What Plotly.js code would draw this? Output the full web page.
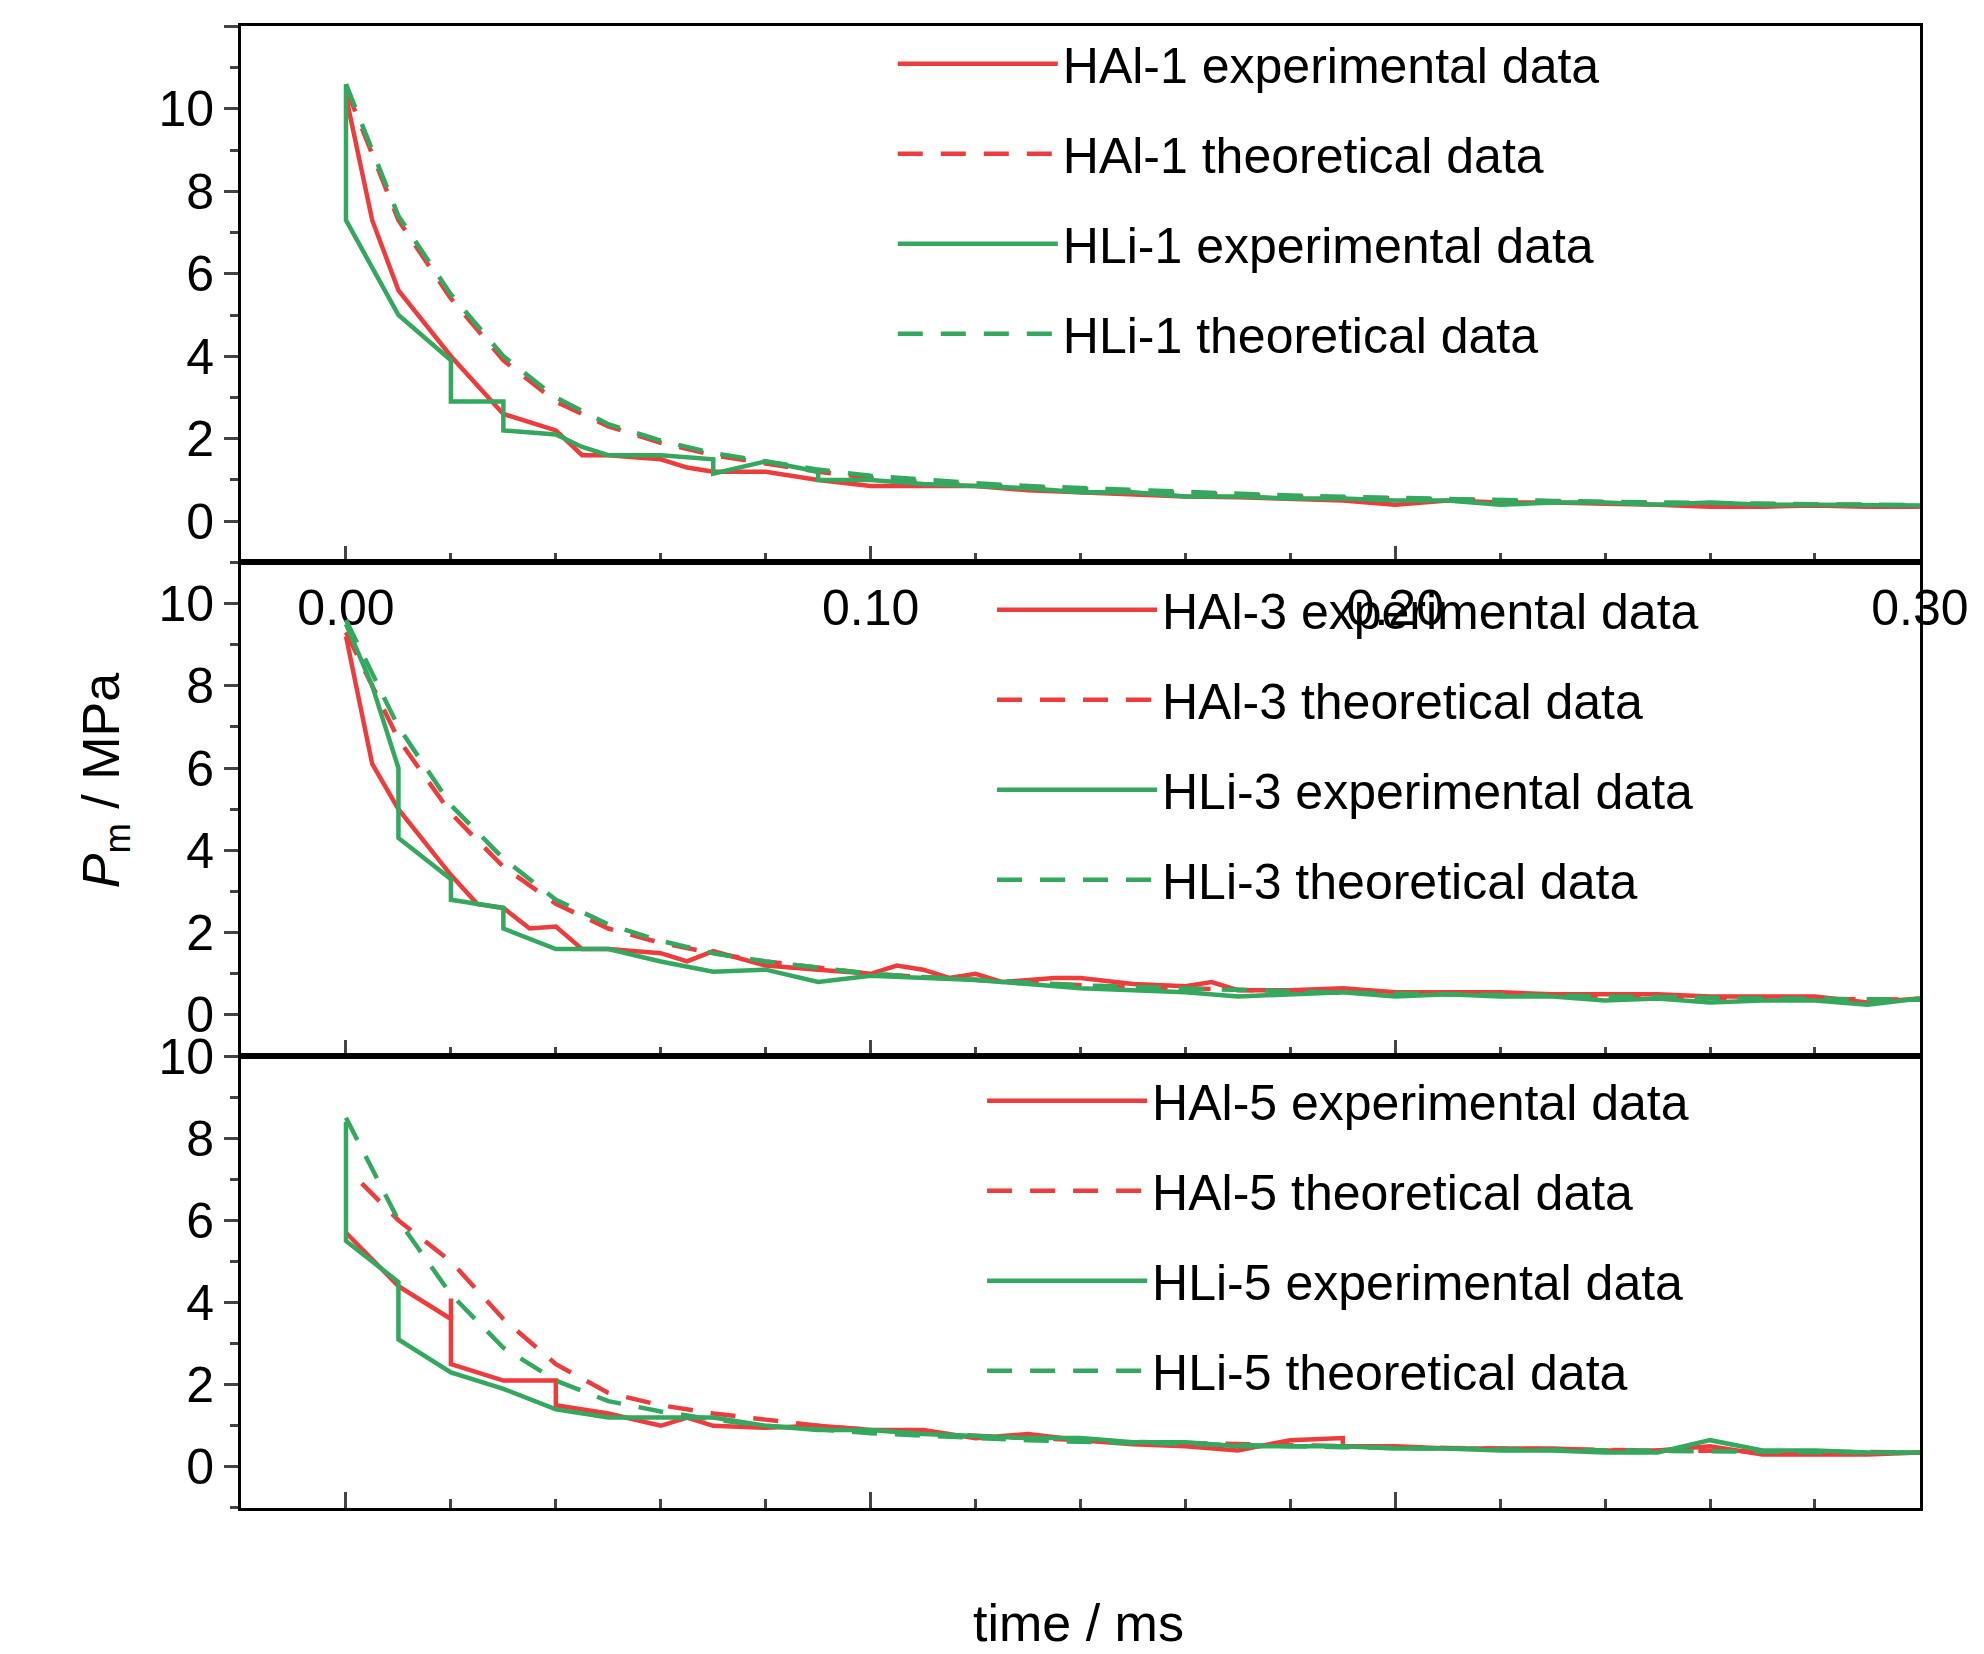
<!DOCTYPE html>
<html>
<head>
<meta charset="utf-8">
<script src="https://cdn.plot.ly/plotly-3.0.1.min.js"></script>
<style>body{margin:0;background:#fff}#chart{width:1984px;height:1654px}</style>
</head>
<body>
<div id="chart"></div>
<script>
const RED = '#ee3b3b';
const GREEN = '#33a85e';

// panel 1
const hal1ExpT = [0,0.005,0.01,0.02,0.03,0.04,0.045,0.05,0.06,0.065,0.07,0.08,0.09,0.1,0.11,0.12,0.13,0.14,0.15,0.16,0.17,0.18,0.19,0.2,0.21,0.22,0.23,0.24,0.25,0.26,0.27,0.28,0.29,0.3];
const hal1ExpP = [10.3,7.3,5.6,4.0,2.6,2.2,1.6,1.6,1.5,1.3,1.2,1.2,1.0,0.85,0.85,0.85,0.75,0.7,0.65,0.6,0.58,0.55,0.5,0.4,0.5,0.45,0.45,0.42,0.4,0.35,0.35,0.38,0.35,0.35];
const hli1ExpT = [0,0,0.01,0.02,0.02,0.03,0.03,0.04,0.045,0.05,0.06,0.07,0.07,0.08,0.09,0.09,0.1,0.11,0.12,0.13,0.14,0.15,0.16,0.17,0.18,0.19,0.2,0.21,0.22,0.23,0.24,0.25,0.26,0.27,0.28,0.29,0.3];
const hli1ExpP = [10.6,7.3,5.0,3.9,2.9,2.9,2.2,2.1,1.8,1.6,1.6,1.5,1.15,1.45,1.2,1.0,1.0,0.9,0.85,0.8,0.7,0.7,0.6,0.6,0.55,0.55,0.5,0.5,0.4,0.45,0.45,0.4,0.45,0.4,0.4,0.38,0.38];
const thT = [0,0.01,0.02,0.03,0.04,0.05,0.06,0.07,0.08,0.09,0.1,0.11,0.12,0.13,0.14,0.15,0.16,0.17,0.18,0.19,0.2,0.21,0.22,0.23,0.24,0.25,0.26,0.27,0.28,0.29,0.3];
const hal1ThP = [10.5,7.3,5.4,3.9,2.9,2.3,1.9,1.6,1.4,1.2,1.05,0.95,0.88,0.82,0.76,0.72,0.68,0.64,0.6,0.57,0.55,0.52,0.5,0.48,0.46,0.44,0.43,0.41,0.4,0.39,0.38];
const hli1ThP = [10.6,7.4,5.5,4.0,3.0,2.35,1.95,1.65,1.45,1.25,1.1,1.0,0.92,0.85,0.8,0.75,0.7,0.66,0.62,0.59,0.56,0.53,0.51,0.49,0.47,0.45,0.44,0.42,0.41,0.4,0.39];

// panel 2
const hal3ExpT = [0,0.005,0.01,0.02,0.025,0.03,0.035,0.04,0.045,0.05,0.06,0.065,0.07,0.08,0.09,0.1,0.105,0.11,0.115,0.12,0.125,0.13,0.135,0.14,0.15,0.16,0.165,0.17,0.18,0.19,0.2,0.21,0.22,0.23,0.24,0.25,0.26,0.27,0.28,0.29,0.3];
const hal3ExpP = [9.2,6.1,5.0,3.4,2.7,2.6,2.1,2.15,1.6,1.6,1.5,1.3,1.55,1.2,1.1,1.0,1.2,1.1,0.9,1.0,0.8,0.85,0.9,0.9,0.75,0.7,0.8,0.6,0.6,0.65,0.55,0.55,0.55,0.5,0.5,0.5,0.45,0.45,0.45,0.3,0.4];
const hli3ExpT = [0,0.005,0.01,0.01,0.02,0.02,0.03,0.03,0.04,0.05,0.06,0.07,0.08,0.09,0.1,0.11,0.12,0.13,0.14,0.15,0.16,0.17,0.18,0.19,0.2,0.21,0.22,0.23,0.24,0.25,0.26,0.27,0.28,0.29,0.3];
const hli3ExpP = [9.5,8.0,6.0,4.3,3.3,2.8,2.6,2.1,1.6,1.6,1.3,1.05,1.1,0.8,0.95,0.9,0.85,0.75,0.65,0.6,0.55,0.45,0.5,0.55,0.45,0.5,0.45,0.45,0.35,0.4,0.3,0.35,0.35,0.25,0.4];
const hal3ThP = [9.3,6.7,4.9,3.6,2.7,2.1,1.75,1.5,1.3,1.15,1.0,0.92,0.85,0.78,0.72,0.68,0.64,0.6,0.57,0.54,0.52,0.5,0.48,0.46,0.44,0.43,0.41,0.4,0.39,0.38,0.37];
const hli3ThP = [9.6,7.0,5.1,3.8,2.8,2.2,1.8,1.5,1.3,1.15,1.0,0.92,0.85,0.78,0.72,0.68,0.64,0.6,0.57,0.54,0.52,0.5,0.48,0.46,0.44,0.43,0.41,0.4,0.39,0.38,0.37];

// panel 3
const hal5ExpT = [0,0.01,0.02,0.02,0.02,0.03,0.04,0.04,0.05,0.06,0.065,0.07,0.08,0.09,0.1,0.11,0.12,0.13,0.14,0.15,0.16,0.17,0.18,0.19,0.19,0.2,0.21,0.22,0.23,0.24,0.25,0.26,0.27,0.28,0.29,0.3];
const hal5ExpP = [5.7,4.4,3.6,4.1,2.5,2.1,2.1,1.5,1.3,1.0,1.2,1.0,0.95,1.0,0.9,0.9,0.7,0.8,0.65,0.55,0.5,0.4,0.65,0.7,0.5,0.5,0.45,0.45,0.45,0.4,0.4,0.5,0.3,0.3,0.3,0.35];
const hli5ExpT = [0,0,0.01,0.01,0.02,0.03,0.04,0.05,0.06,0.07,0.08,0.09,0.1,0.11,0.12,0.13,0.14,0.15,0.16,0.17,0.18,0.19,0.2,0.21,0.22,0.23,0.24,0.25,0.26,0.27,0.28,0.29,0.3];
const hli5ExpP = [8.4,5.5,4.5,3.1,2.3,1.9,1.4,1.2,1.2,1.2,1.0,0.9,0.9,0.8,0.75,0.7,0.7,0.6,0.6,0.5,0.5,0.5,0.45,0.45,0.4,0.4,0.35,0.35,0.65,0.4,0.4,0.35,0.35];
const hal5ThT = [0.003,0.01,0.02,0.03,0.04,0.05,0.06,0.07,0.08,0.09,0.1,0.11,0.12,0.13,0.14,0.15,0.16,0.17,0.18,0.19,0.2,0.21,0.22,0.23,0.24,0.25,0.26,0.27,0.28,0.29,0.3];
const hal5ThP = [6.9,6.0,5.0,3.6,2.5,1.8,1.5,1.3,1.15,1.0,0.9,0.82,0.76,0.7,0.65,0.61,0.58,0.55,0.52,0.5,0.48,0.46,0.44,0.42,0.41,0.4,0.39,0.38,0.37,0.36,0.35];
const hli5ThP = [8.5,6.0,4.2,2.9,2.1,1.6,1.35,1.15,1.0,0.9,0.82,0.76,0.7,0.65,0.61,0.58,0.55,0.52,0.5,0.48,0.46,0.44,0.42,0.41,0.4,0.39,0.38,0.37,0.36,0.35,0.34];

function tr(x, y, name, color, dash, ax, leg, grp) {
  return {x: x, y: y, name: name, type: 'scatter', mode: 'lines',
    line: {color: color, width: 4.5, dash: dash},
    xaxis: ax[0], yaxis: ax[1], legend: leg, legendgroup: grp};
}

const a1 = ['x', 'y'], a2 = ['x2', 'y2'], a3 = ['x3', 'y3'];
const data = [
  tr(hal1ExpT, hal1ExpP, 'HAl-1 experimental data', RED, 'solid', a1, 'legend', 'a'),
  tr(thT, hal1ThP, 'HAl-1 theoretical data', RED, '25px,18px', a1, 'legend', 'b'),
  tr(hli1ExpT, hli1ExpP, 'HLi-1 experimental data', GREEN, 'solid', a1, 'legend', 'c'),
  tr(thT, hli1ThP, 'HLi-1 theoretical data', GREEN, '25px,18px', a1, 'legend', 'd'),
  tr(hal3ExpT, hal3ExpP, 'HAl-3 experimental data', RED, 'solid', a2, 'legend2', 'e'),
  tr(thT, hal3ThP, 'HAl-3 theoretical data', RED, '25px,18px', a2, 'legend2', 'f'),
  tr(hli3ExpT, hli3ExpP, 'HLi-3 experimental data', GREEN, 'solid', a2, 'legend2', 'g'),
  tr(thT, hli3ThP, 'HLi-3 theoretical data', GREEN, '25px,18px', a2, 'legend2', 'h'),
  tr(hal5ExpT, hal5ExpP, 'HAl-5 experimental data', RED, 'solid', a3, 'legend3', 'i'),
  tr(hal5ThT, hal5ThP, 'HAl-5 theoretical data', RED, '25px,18px', a3, 'legend3', 'j'),
  tr(hli5ExpT, hli5ExpP, 'HLi-5 experimental data', GREEN, 'solid', a3, 'legend3', 'k'),
  tr(thT, hli5ThP, 'HLi-5 theoretical data', GREEN, '25px,18px', a3, 'legend3', 'l')
];

const FONT = 'Liberation Sans Narrow, Liberation Sans, Arial, sans-serif';
const xDom = [0.1215, 0.9677];
function xax(labels, anchor) {
  return {domain: xDom, range: [-0.02, 0.30], anchor: anchor,
    tickvals: [0, 0.1, 0.2, 0.3], ticktext: ['0.00', '0.10', '0.20', '0.30'],
    showticklabels: labels, ticks: 'inside', ticklen: 16, tickwidth: 3,
    minor: {dtick: 0.02, tick0: 0, ticks: 'inside', ticklen: 9, tickwidth: 3},
    showline: true, linewidth: 3, linecolor: '#000', mirror: true,
    showgrid: false, zeroline: false, tickfont: {size: 50}};
}
function yax(dom, rng, anchor) {
  return {domain: dom, range: rng, anchor: anchor, dtick: 2, tick0: 0,
    ticks: 'outside', ticklen: 14, tickwidth: 3,
    minor: {dtick: 1, ticks: 'outside', ticklen: 8, tickwidth: 3},
    showline: true, linewidth: 3, linecolor: '#000', mirror: true,
    showgrid: false, zeroline: false, tickfont: {size: 50}};
}
function leg(x, y) {
  return {x: x, y: y, xanchor: 'left', yanchor: 'top', bgcolor: 'rgba(0,0,0,0)',
    font: {size: 50, family: FONT}, itemwidth: 160, tracegroupgap: 22};
}

const layout = {
  width: 1984, height: 1654, margin: {l: 0, r: 0, t: 0, b: 0},
  paper_bgcolor: '#fff', plot_bgcolor: '#fff', showlegend: true,
  font: {family: FONT, size: 50, color: '#000'},
  xaxis: xax(true, 'y3'), xaxis2: Object.assign(xax(false, 'y2'), {matches: 'x'}),
  xaxis3: Object.assign(xax(false, 'y'), {matches: 'x'}),
  yaxis3: yax([0.660, 0.984], [-1, 12], 'x3'),
  yaxis2: yax([0.3615, 0.660], [-1, 11], 'x2'),
  yaxis: yax([0.0883, 0.3615], [-1, 10], 'x'),
  legend: leg(0.45, 0.985), legend2: leg(0.50, 0.655), legend3: leg(0.495, 0.358),
  annotations: [
    {text: '<i>P</i><sub>m</sub> / MPa', xref: 'paper', yref: 'paper', x: 0.035, y: 0.528,
      textangle: -90, showarrow: false, font: {size: 52}},
    {text: 'time / ms', xref: 'paper', yref: 'paper', x: 0.5436, y: 0.0, yanchor: 'bottom',
      showarrow: false, font: {size: 52}}
  ]
};
// swap so panel 1 is at top: reassign traces' axes
data.forEach(function (t) {
  if (t.xaxis === 'x') { t.xaxis = 'x3'; t.yaxis = 'y3'; }
  else if (t.xaxis === 'x3') { t.xaxis = 'x'; t.yaxis = 'y'; }
});
Plotly.newPlot('chart', data, layout, {staticPlot: true});
</script>
</body>
</html>
